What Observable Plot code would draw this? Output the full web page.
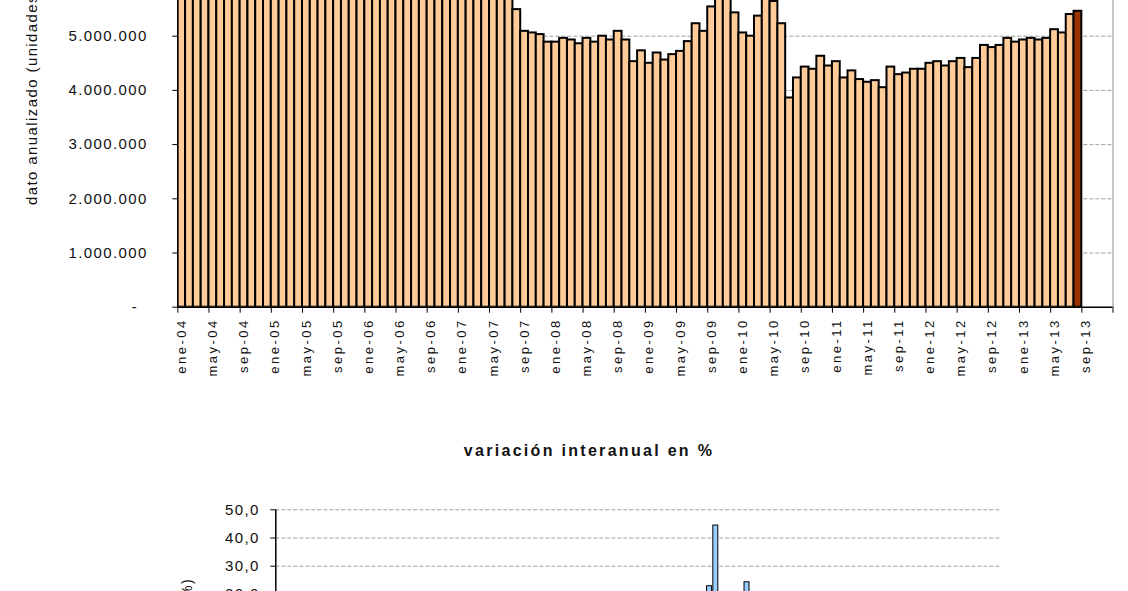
<!DOCTYPE html>
<html>
<head>
<meta charset="utf-8">
<script src="https://cdn.jsdelivr.net/npm/d3@7"></script>
<script src="https://cdn.jsdelivr.net/npm/@observablehq/plot@0.6"></script>
<style>
  html, body { margin: 0; padding: 0; background: #fff; overflow: hidden; width: 1128px; height: 591px; }
  #top, #bottom { position: absolute; left: 0; }
  #top { top: 0; }
  #bottom { top: 420px; }
  svg text { letter-spacing: 1.4px; }
</style>
</head>
<body>
<div id="top"></div>
<div id="bottom"></div>
<script>
// ---- categories (monthly, ene-04 .. dic-13) ----
const monthNames = ["ene","feb","mar","abr","may","jun","jul","ago","sep","oct","nov","dic"];
const yearSuffixes = ["04","05","06","07","08","09","10","11","12","13"];
const categories = yearSuffixes.flatMap(y => monthNames.map(m => `${m}-${y}`));

// x tick labels (every 4 months)
const tickLabels = ["ene-04","may-04","sep-04","ene-05","may-05","sep-05","ene-06","may-06","sep-06",
  "ene-07","may-07","sep-07","ene-08","may-08","sep-08","ene-09","may-09","sep-09","ene-10","may-10",
  "sep-10","ene-11","may-11","sep-11","ene-12","may-12","sep-12","ene-13","may-13","sep-13"];

// y tick values
const topYTicks = [0, 1, 2, 3, 4, 5];            // millions
const bottomYTicks = [-60, -50, -40, -30, -20, -10, 0, 10, 20, 30, 40, 50];

// ---- dato anualizado (millones de unidades), ene-04 .. ago-13 ----
const anualizado = [
  5.95, 6.02, 6.10, 6.05, 6.15, 6.20, 6.12, 6.25, 6.30, 6.22, 6.35, 6.40,   // 2004 (above visible area)
  6.38, 6.45, 6.50, 6.42, 6.55, 6.60, 6.52, 6.48, 6.58, 6.62, 6.55, 6.60,   // 2005
  6.58, 6.65, 6.60, 6.70, 6.62, 6.68, 6.72, 6.64, 6.60, 6.66, 6.58, 6.62,   // 2006
  6.55, 6.48, 6.40, 6.30, 6.20, 6.05, 5.85, 5.49, 5.09, 5.06, 5.03, 4.89,   // 2007
  4.89, 4.96, 4.93, 4.86, 4.96, 4.89, 5.00, 4.93, 5.09, 4.93, 4.53, 4.73,   // 2008
  4.50, 4.69, 4.56, 4.66, 4.72, 4.90, 5.23, 5.09, 5.54, 5.95, 5.90, 5.43,   // 2009
  5.06, 5.00, 5.37, 5.85, 5.64, 5.23, 3.86, 4.23, 4.43, 4.39, 4.63, 4.45,   // 2010
  4.53, 4.23, 4.36, 4.20, 4.15, 4.18, 4.05, 4.43, 4.29, 4.32, 4.39, 4.39,   // 2011
  4.50, 4.53, 4.45, 4.53, 4.59, 4.42, 4.59, 4.83, 4.79, 4.83, 4.96, 4.89,   // 2012
  4.93, 4.96, 4.93, 4.96, 5.12, 5.06, 5.40, 5.46                            // 2013
];

// ---- variación interanual en %, ene-04 .. ago-13 (only values > 20 are visible) ----
const variacion = [
  8, 12, 6, 15, 10, 9, 14, 7, 11, 13, 9, 12,
  3, -2, 5, 1, 4, -1, 2, 0, -3, 1, 2, -1,
  -2, 1, -4, 3, -1, -3, 0, -2, 2, -1, -3, 1,
  -1, 2, -3, -2, 1, -4, -5, -3, -12, -8, -10, -15,
  -18, -20, -25, -30, -22, -28, -27, -35, -38, -45, -48, -50,
  -42, -45, -40, -38, -35, -25, -12, -5, 10, 22.9, 44.4, 18,
  15, 12, 19, 24.3, 10, 5, -24, -20, -15, -30, -25, -22,
  -28, -25, -30, -20, -27, -22, -15, -18, -12, -8, -15, -10,
  -8, -5, -10, -12, -9, -7, -11, -6, -14, -10, -9, -13,
  -5, -3, -4, 2, 1, 3, 5, 8
];

const FONT = "'Liberation Sans', Arial, sans-serif";
const INK = "#111";
const topData = anualizado.map((v, i) => ({i, v, last: i === anualizado.length - 1}));
const botData = variacion.map((v, i) => ({i, v}));

const fmtMillions = v => v === 0 ? "-\u2007" : d3.format(",")(v * 1e6).replace(/,/g, ".");
const fmtPct = v => d3.format(".1f")(v).replace(".", ",");

// ---------- top chart ----------
const topChart = Plot.plot({
  width: 1128, height: 400,
  marginLeft: 177.3, marginRight: 15.5, marginTop: 0, marginBottom: 93.3,
  x: {type: "linear", domain: [0, categories.length], axis: null},
  y: {domain: [0, 306.7 / 54.2], axis: null},
  style: {fontFamily: FONT, fontSize: "15px", color: INK, background: "white"},
  marks: [
    Plot.gridY(topYTicks.filter(v => v > 0), {stroke: "#a0a0a0", strokeOpacity: 1, strokeDasharray: "4,2"}),
    Plot.rect(topData, {
      x1: "i", x2: d => d.i + 1, y1: 0, y2: "v",
      fill: d => d.last ? "#993300" : "#FFCC99",
      stroke: "#000", strokeWidth: 2, clip: true
    }),
    Plot.ruleX([categories.length], {stroke: "#8c8c8c", strokeWidth: 1}),
    Plot.ruleX([0], {stroke: "#000", strokeWidth: 1.5}),
    Plot.ruleY([0], {stroke: "#000", strokeWidth: 1.5}),
    Plot.axisY(topYTicks, {tickSize: 5, tickPadding: 25, tickFormat: fmtMillions, fontSize: 15, label: null, stroke: "#000", fill: INK}),
    Plot.axisX(d3.range(0, categories.length + 1, 4), {tickSize: 6, tickFormat: () => "", label: null, stroke: "#000"}),
    Plot.text(tickLabels, {
      x: d => categories.indexOf(d) + 0.5, frameAnchor: "bottom", dy: 11,
      rotate: -90, textAnchor: "end", lineAnchor: "middle",
      fontSize: 13, text: d => d, fill: INK
    })
  ]
});
d3.select(topChart).selectAll("g[aria-label='text'] text").style("letter-spacing", "2.5px");
d3.select(topChart).append("text")
  .attr("transform", "translate(33,205) rotate(-90)")
  .attr("text-anchor", "start").attr("dominant-baseline", "middle")
  .attr("font-size", 15).attr("fill", INK)
  .style("letter-spacing", "1.4px")
  .text("dato anualizado (unidades)");
document.getElementById("top").append(topChart);

// ---------- bottom chart ----------
const botChart = Plot.plot({
  width: 1128, height: 420,
  marginLeft: 275.3, marginRight: 128.7, marginTop: 89.3, marginBottom: 20.5,
  x: {type: "linear", domain: [0, variacion.length], axis: null},
  y: {domain: [-60, 50], axis: null},
  style: {fontFamily: FONT, fontSize: "15px", color: INK, background: "white"},
  marks: [
    Plot.gridY(bottomYTicks.filter(v => v !== 0), {stroke: "#a0a0a0", strokeOpacity: 1, strokeDasharray: "4,2"}),
    Plot.rect(botData, {
      x1: d => d.i + 0.1, x2: d => d.i + 0.9, y1: 0, y2: "v",
      fill: "#99CCFF", stroke: "#000", strokeWidth: 1
    }),
    Plot.ruleX([0], {stroke: "#000", strokeWidth: 1.5}),
    Plot.ruleY([0], {stroke: "#000", strokeWidth: 1}),
    Plot.axisY(bottomYTicks, {tickSize: 5, tickPadding: 11, tickFormat: fmtPct, fontSize: 15, label: null, stroke: "#000", fill: INK})
  ]
});
const bsel = d3.select(botChart);
bsel.append("text")
  .attr("x", 589).attr("y", 32)
  .attr("text-anchor", "middle").attr("dominant-baseline", "middle")
  .attr("font-size", 16).attr("font-weight", "bold").attr("fill", INK)
  .style("letter-spacing", "2.3px")
  .text("variación interanual en %");
bsel.append("text")
  .attr("transform", "translate(188,158) rotate(-90)")
  .attr("text-anchor", "end").attr("dominant-baseline", "middle")
  .attr("font-size", 14).attr("fill", INK)
  .style("letter-spacing", "1.4px")
  .text("variación (%)");
document.getElementById("bottom").append(botChart);
</script>
</body>
</html>
